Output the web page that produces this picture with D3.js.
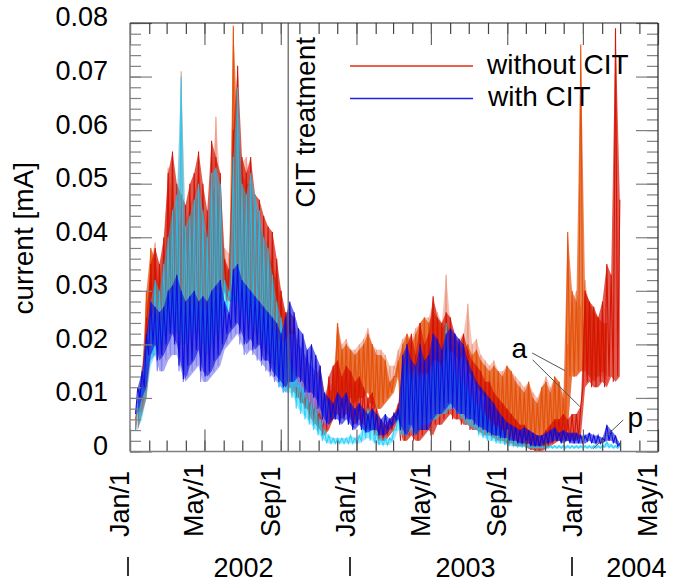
<!DOCTYPE html>
<html>
<head>
<meta charset="utf-8">
<script src="https://cdn.jsdelivr.net/npm/d3@7"></script>
<style>
body { margin: 0; background: #fff; }
text { font-family: "Liberation Sans", Arial, Helvetica, sans-serif; fill: #000; }
</style>
</head>
<body>
<svg id="chart" width="674" height="587"></svg>
<script>
var weekStart = "2002-01-10";
var weekStep = 7;
var _ = null;

var salmonLo = [5,8,12,18,20,19,20,22,23,22, 22,20,21,22,22,20,18,20,22,24, 30,29,28,28,27,26,24,22,20,19,
  18,16,15,13,12,12,11,10,9,8, 7,6,6,5,5,6,11,10,11,10, 9,10,10,11,9,8,8,9,10,12,
  15,6,5,5,4,5,6,7,8,8, 8,9,9,8,8,7,7,6,6,6, 5,5,5,5,4,4,4,3,3,2.5,
  2,2,2,3,3,3,3,3,3,4, 15,14,15,16,14,14,14,14,13,_, _,_];
var salmonHi = [10,16,28,36,39,33,38,53,47,45, 71,42,46,48,52,46,42,50,62.5,50, 38,37,56,62,54,55,50,46,44,40,
  37,35,33,30,26,24,22,20,19,17, 15,14,15,11,12,13,24,20,21,19, 19,20,21,23,20,19,19,18,16,16,
  19,21,22,21,23,24,25,25,28,26, 24,33,24,22,21,22,27.6,20,21,18, 17,16,17,15,15,16,15,14,13,12,
  13,11,10,12,14,12,14,13,11,20, 28,30,27,32,27,26,25,24,22,_, _,_];

var orangeLo = [6,8,12,20,20,18,20,22,24,22, 22,20,22,22,22,20,18,20,22,24, 30,28,28,30,28,26,25,22,20,20,
  18,16,15,13,12,12,11,10,9,8, 7,6,6,5,5,6,11,10,11,10, 9,10,10,11,9,8,8,9,10,11,
  14,6,5,5,4,5,6,7,8,8, 8,9,9,8,8,7,7,6,6,6, 5,5,5,5,4,4,4,3,3,2.5,
  2,2,2,3,3,3,3,3,3,4, 14,14,15,15,14,13,14,15,14,_, _,_];
var orangeHi = [9,14,30,38,36,30,34,42,48,42, 44,40,44,46,48,42,40,48,50,46, 35,33,79.5,60,52,50,50,44,42,40,
  38,34,32,28,25,23,22,20,18,17, 15,14,16,10,11,12,24,19,20,19, 18,19,20,22,20,18,18,17,13,14,
  17,20,22,20,22,24,25,24,26,25, 23,24,22,21,20,19,20,18,19,17, 16,15,16,15,14,16,15,13,12,11,
  13,10,9,12,13,11,14,13,10,41, 30,28,76,30,28,26,25,24,24,_, _,_];

var redLo = [4,7,10,18,20,20,22,24,25,24, 24,22,23,24,25,22,20,22,24,26, 30,28,30,30,28,27,26,24,22,20,
  18,18,16,14,12,12,12,10,9,8, 6,5,4,3,4,6,7,6,7,6, 5,6,5,4,4,3,2,2,3,4,
  6,2,2,3,2,2,3,4,3,5, 5,6,7,6,6,5,5,4,4,3.5, 3,3,2.5,2,2,1.5,1.5,1,1,1,
  0.5,0.3,0,0,0.5,1,1.5,2,2,2, 2,2,2.5,12,13,12,12,13,12,14, 13,14];
var redHi = [10,14,25,35,38,35,40,52,56,50, 48,46,50,52,56,50,45,58,55,52, 36,34,60,72,55,52,55,48,47,44,
  42,41,36,30,26,26,25,18,17,16, 14,13,12,9,14,16,17,14,16,15, 13,14,12,10,11,8,6,5,6,7,
  9,16,20,22,18,24,20,22,29,25, 24,26,25,22,20,22,19,17,16,15, 13,13,11,10,9,8,7,6,5,5,
  4,3.5,3,3,4,5,6,6,7,6, 7,7,8.5,30,28,27,25,28,35,33, 79,47];

var lavenderLo = [7,10,13,17,18,15,15,17,18,18, 15,13,14,15,16,13,13,14,15,16, 19,20,21,22,20,18,19,18,17,16,
  15,14,13,12,11,12,12,12,11,10, 9,8,7,5,5,_,_,_,_,_, _,_,_,_,_,_,_,_,_,_,
  _,4,4,5,4,5,5,5,6,7, 7,8,8,8,7,7,6,6,5,4.5, 4,_,_,_,_,_,_,_,_,_,
  _,_,_,_,_,_,_,_,_,_, _,_,_,_,_,_,_,_,_,_, _,_];
var lavenderHi = [10,14,20,26,25,24,25,28,30,30, 28,26,27,28,27,27,26,28,30,30, 27,25,33,35,32,30,30,29,27,26,
  25,23,22,20,21,22,22,20,19,17, 16,15,13,10,9,_,_,_,_,_, _,_,_,_,_,_,_,_,_,_,
  _,14,15,14,13,15,14,15,17,17, 16,18,19,18,17,18,15,14,12,11, 10,_,_,_,_,_,_,_,_,_,
  _,_,_,_,_,_,_,_,_,_, _,_,_,_,_,_,_,_,_,_, _,_];

var cyanLo = [4,6,10,16,18,19,20,22,23,22, 22,20,22,22,23,20,18,20,22,23, 26,26,28,28,26,25,24,23,22,20,
  19,17,14,12,11,11,10,8,7,6, 5,4,3,2,1.5,1.5,1.5,1.5,1.5,1.5, 1.5,1.5,2,2.5,2,1.5,1.2,1.2,1.2,2,
  4,3,3,4,3,4,5,5,6,6, 7,7,8,8,7,6,5,4.5,4,3, 2.5,2,2,1.5,1.5,1.2,1,1,0.8,0.8,
  0.7,0.6,0.6,0.6,0.6,0.6,0.6,0.6,0.6,0.6, 0.6,0.6,0.6,0.6,0.6,0.6,0.6,0.6,0.8,0.7, 0.6,0.6];
var cyanHi = [9,12,20,28,32,30,35,40,45,48, 70,42,44,47,50,45,40,52,53,50, 32,30,55,68,50,48,52,48,45,40,
  38,33,28,25,22,17,15,13,12,10, 9,8,6,4,3,2.5,2.5,2.5,2.5,3, 2.5,3,5,8,7,4,2.5,2.5,2.5,4,
  7,15,18,14,16,13,15,14,16,17, 15,24,17,15,14,13,12,10,9,8, 7,6,5,4.5,4,3,2.5,2,1.8,1.5,
  1.3,1.2,1.1,1.1,1.1,1.1,1.1,1.1,1.1,1.1, 1.1,1.1,1.1,1.1,1.1,1.1,1.1,1.1,1.8,1.3, 1.1,1.1];

var blueLo = [7,10,12,18,20,17,18,20,22,20, 16,13.5,16,17,19,15,14,15,17,18, 20,22,23,24,22,20,21,19,20,17,
  17,15,14,13,12,13,13,14,13,11, 11,10,8,6,5,6,6,5,6,5, 4,5,4,3.5,4,4,3,3,4,5,
  6,4,3,5,3,4,4,4,6,7, 7,8,9,8,7,7,6,6,5,4.5, 4,3.5,3,3,2.5,2.5,2,2,1.5,1.5,
  1.5,1,1,1,1.5,1.5,2,2,1.5,2, 1.5,1.5,1.5,1.5,2,1.5,1.5,1.5,2,2, 1.5,1];
var blueHi = [12,15,22,28,27,26,27,30,31,33, 30,28,29,30,28,29,28,30,31,32, 28,26,34,35,32,31,30,29,28,27,
  26,25,24,22,25,28,26,23,22,19, 20,18,16,11,10,9,11,10,11,9, 8,9,8,7,8,7,6,7,6,7,
  8,18,20,17,16,20,17,18,22,21, 19,22,23,22,21,20,17,15,13,12, 11,10,9,7.5,6.5,5.5,5,4.5,4,4.5,
  4,3.5,3,3,3.5,4,4.5,3.5,4,3.5, 3.5,3.5,3,3,3.5,3,3,2.5,5,4, 3,1.5];

var series = [
  { name: "salmon",   color: "#ee9c86", lo: salmonLo,   hi: salmonHi,   fill: 0.6,  line: 1 },
  { name: "orange",   color: "#e4520a", lo: orangeLo,   hi: orangeHi,   fill: 0.7,  line: 1 },
  { name: "red",      color: "#d41404", lo: redLo,      hi: redHi,      fill: 0.7,  line: 1 },
  { name: "lavender", color: "#8484f0", lo: lavenderLo, hi: lavenderHi, fill: 0.7,  line: 1 },
  { name: "cyan",     color: "#18cdfa", lo: cyanLo,     hi: cyanHi,     fill: 0.45, line: 0.8 },
  { name: "blue",     color: "#0c0cdc", lo: blueLo,     hi: blueHi,     fill: 0.6,  line: 0.95 }
];

var yTicksMajor = [0, 0.01, 0.02, 0.03, 0.04, 0.05, 0.06, 0.07, 0.08];
var yTicksMinor = d3.range(0, 0.0801, 0.002);
var citDate = "2002-09-13";
var yearMarks = [2002, 2003, 2004];
var yearLabels = [{ text: "2002", at: 2002.52 }, { text: "2003", at: 2003.52 }, { text: "2004", at: 2004.29 }];
var legendItems = [{ label: "without CIT", color: "#e42a14" }, { label: "with CIT", color: "#1a24e6" }];
// annotation letters: label anchor and the data points they point to (date, uA)
var notes = [
  { text: "a", at: ["2003-09-08", 17.4], to: [["2003-10-11", 18.4, "2003-12-03", 15.1], ["2003-10-12", 17.1, "2003-12-27", 8.4]] },
  { text: "p", at: ["2004-03-13", 4.5], to: [["2004-03-06", 5.9, "2004-01-17", 0.5]] }
];

var parse = d3.utcParse("%Y-%m-%d");
var svg = d3.select("#chart");
var plotL = 130, plotR = 658, plotT = 23, plotB = 451.5;

var x = d3.scaleUtc()
  .domain([parse("2002-01-01"), parse("2004-05-01")])
  .range([plotL, plotR]);
var y = d3.scaleLinear().domain([0, 0.08]).range([plotB, plotT]);
var uA = function(v) { return y(v / 1000); };

// data: a band between the weekly low and high, with the zigzag trace drawn over it
var t0 = parse(weekStart);
series.forEach(function(s) {
  var pts = [], weeks = [];
  for (var k = 0; k < s.lo.length; k++) {
    var d = d3.utcDay.offset(t0, k * weekStep);
    var mid = d3.utcHour.offset(d, weekStep * 12);
    weeks.push({ d: mid, lo: s.lo[k], hi: s.hi[k] });
    pts.push({ d: d, v: s.lo[k] });
    pts.push({ d: mid, v: s.hi[k] });
  }
  var band = d3.area()
    .defined(function(p) { return p.lo !== null; })
    .x(function(p) { return x(p.d); })
    .y0(function(p) { return uA(p.lo); })
    .y1(function(p) { return uA(p.hi); });
  var line = d3.line()
    .defined(function(p) { return p.v !== null; })
    .x(function(p) { return x(p.d); })
    .y(function(p) { return uA(p.v); });
  svg.append("path")
    .attr("d", band(weeks))
    .attr("fill", s.color)
    .attr("fill-opacity", s.fill);
  svg.append("path")
    .attr("d", line(pts))
    .attr("fill", "none")
    .attr("stroke", s.color)
    .attr("stroke-opacity", s.line)
    .attr("stroke-width", 1.1);
});

// CIT treatment marker
var citX = x(parse(citDate));
svg.append("line")
  .attr("x1", citX).attr("x2", citX)
  .attr("y1", plotT).attr("y2", plotB)
  .attr("stroke", "#666").attr("stroke-width", 1.3);
svg.append("text")
  .attr("transform", "translate(" + (citX + 26.5) + "," + 37 + ") rotate(-90)")
  .attr("text-anchor", "end")
  .style("font-size", "28px")
  .text("CIT treatment");

// axes
function styleAxis(g, color) {
  g.select(".domain").remove();
  g.selectAll(".tick line").attr("stroke", color).attr("stroke-width", 1.2);
}
var months = d3.utcMonth.range(x.domain()[0], d3.utcDay.offset(x.domain()[1], 1));
var majorMonths = months.filter(function(d) { return d.getUTCMonth() % 4 === 0; });

svg.append("g").attr("transform", "translate(" + plotL + ",0)")
  .call(d3.axisRight(y).tickValues(yTicksMinor).tickSize(11).tickFormat(""))
  .call(styleAxis, "#808080");
svg.append("g").attr("transform", "translate(" + plotL + ",0)")
  .call(d3.axisRight(y).tickValues(yTicksMajor).tickSize(22).tickFormat(""))
  .call(styleAxis, "#808080");
svg.append("g").attr("transform", "translate(" + plotR + ",0)")
  .call(d3.axisLeft(y).tickValues(yTicksMinor).tickSize(11).tickFormat(""))
  .call(styleAxis, "#808080");
svg.append("g").attr("transform", "translate(" + plotR + ",0)")
  .call(d3.axisLeft(y).tickValues(yTicksMajor).tickSize(22).tickFormat(""))
  .call(styleAxis, "#808080");

[[plotB, d3.axisTop], [plotT, d3.axisBottom]].forEach(function(a) {
  svg.append("g").attr("transform", "translate(0," + a[0] + ")")
    .call(a[1](x).tickValues(months).tickSize(11).tickFormat(""))
    .call(styleAxis, "#444");
  svg.append("g").attr("transform", "translate(0," + a[0] + ")")
    .call(a[1](x).tickValues(majorMonths).tickSize(22).tickFormat(""))
    .call(styleAxis, "#666");
});

// y tick labels
var yLab = svg.append("g").attr("transform", "translate(" + plotL + ",0)")
  .call(d3.axisLeft(y).tickValues(yTicksMajor).tickSize(0).tickPadding(22)
    .tickFormat(function(d) { return d === 0 ? "0" : d3.format(".2f")(d); }));
yLab.attr("font-family", null).attr("font-size", null);
yLab.select(".domain").remove();
yLab.selectAll("text").attr("dy", "0.11em").style("font-size", "27px").attr("fill", "#000");

// x tick labels
var fmt = d3.utcFormat("%b/%-d");
svg.append("g").selectAll("text").data(majorMonths).enter().append("text")
  .attr("transform", function(d) { return "translate(" + (x(d) - 1) + ",537) rotate(-90)"; })
  .attr("text-anchor", "start")
  .style("font-size", "27px")
  .text(fmt);

// year row
var yearX = d3.scaleLinear().domain([2002, 2004]).range([128, 572]);
svg.append("g").selectAll("line").data(yearMarks).enter().append("line")
  .attr("x1", yearX).attr("x2", yearX).attr("y1", 557).attr("y2", 576)
  .attr("stroke", "#000").attr("stroke-width", 1.6);
svg.append("g").selectAll("text").data(yearLabels).enter().append("text")
  .attr("x", function(d) { return yearX(d.at); })
  .attr("y", 577)
  .attr("text-anchor", "middle")
  .style("font-size", "27px")
  .text(function(d) { return d.text; });

// frame
svg.append("line").attr("x1", plotL).attr("x2", plotL).attr("y1", plotT).attr("y2", plotB).attr("stroke", "#808080").attr("stroke-width", 1.5);
svg.append("line").attr("x1", plotL).attr("x2", plotR).attr("y1", plotB).attr("y2", plotB).attr("stroke", "#808080").attr("stroke-width", 1.5);
svg.append("line").attr("x1", plotL).attr("x2", plotR).attr("y1", plotT).attr("y2", plotT).attr("stroke", "#222").attr("stroke-width", 1.2);
svg.append("line").attr("x1", plotR).attr("x2", plotR).attr("y1", plotT).attr("y2", plotB).attr("stroke", "#222").attr("stroke-width", 1.2);

// y title
svg.append("text")
  .attr("transform", "translate(33," + ((plotT + plotB) / 2 + 1) + ") rotate(-90)")
  .attr("text-anchor", "middle")
  .style("font-size", "28px")
  .text("current [mA]");

// legend
var leg = svg.append("g").selectAll("g").data(legendItems).enter().append("g")
  .attr("transform", function(d, i) { return "translate(350," + (66 + i * 32.5) + ")"; });
leg.append("line").attr("x1", 0).attr("x2", 123).attr("stroke", function(d) { return d.color; }).attr("stroke-width", 1.3);
leg.append("text").attr("x", function(d, i) { return 137 + i; }).attr("y", 7.5)
  .style("font-size", "28px").text(function(d) { return d.label; });

// annotations
notes.forEach(function(n) {
  svg.append("text")
    .attr("x", x(parse(n.at[0]))).attr("y", uA(n.at[1]))
    .style("font-size", "28px")
    .text(n.text);
  n.to.forEach(function(t) {
    svg.append("line")
      .attr("x1", x(parse(t[0]))).attr("y1", uA(t[1]))
      .attr("x2", x(parse(t[2]))).attr("y2", uA(t[3]))
      .attr("stroke", "#555").attr("stroke-width", 1);
  });
});
</script>
</body>
</html>
